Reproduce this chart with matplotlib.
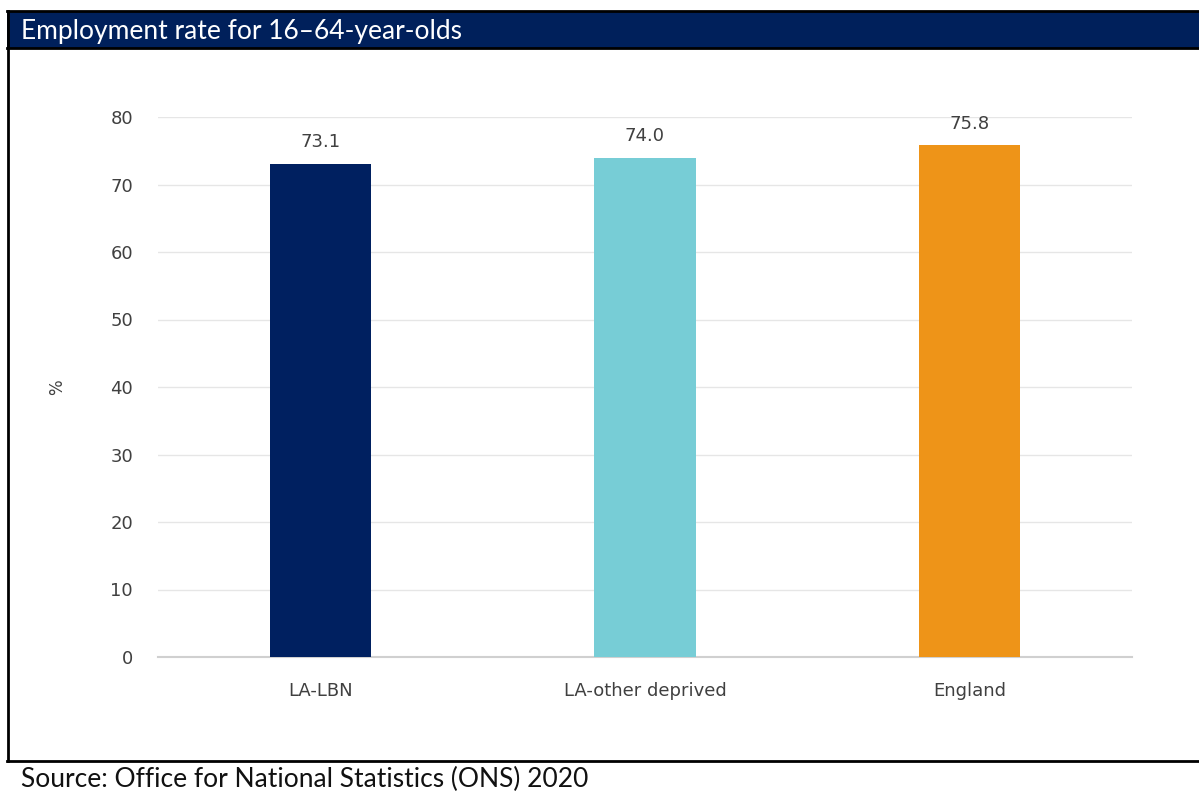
import matplotlib.pyplot as plt
from matplotlib.patches import Rectangle
from matplotlib.lines import Line2D

areas = ['LA-LBN', 'LA-other deprived', 'England']
rates = [73.1, 74.0, 75.8]
bar_colours = ['#002060', '#77CDD6', '#EE9418']
yticks = [0, 10, 20, 30, 40, 50, 60, 70, 80]

W, H = 1199, 791
fig = plt.figure(figsize=(W / 100, H / 100), dpi=100)
fig.patch.set_facecolor('white')

# header band and box outline (pixel coords converted to figure fractions)
def fx(px):
    return px / W

def fy(py):
    return 1 - py / H

fig.patches.append(Rectangle((fx(7), fy(48)), fx(1199) - fx(7), fy(11) - fy(48),
                             transform=fig.transFigure, facecolor='#00205B',
                             edgecolor='none', zorder=0))
for x0, y0, x1, y1 in [(7, 11, 1199, 11), (7, 48, 1199, 48), (7, 761, 1199, 761)]:
    fig.lines.append(Line2D([fx(x0), fx(x1)], [fy(y0), fy(y1)], transform=fig.transFigure,
                            color='black', lw=2))
fig.lines.append(Line2D([fx(8), fx(8)], [fy(11), fy(761)], transform=fig.transFigure,
                        color='black', lw=2))

fig.text(fx(21), fy(32), 'Employment rate for 16\u201364-year-olds', color='white',
         fontsize=19, family='Lato', va='center', ha='left')
fig.text(fx(21), fy(779), 'Source: Office for National Statistics (ONS) 2020', color='#111111',
         fontsize=19, family='Lato', va='center', ha='left')

ax = fig.add_axes([fx(158), fy(657), fx(1132) - fx(158), fy(117) - fy(657)])
x = range(len(areas))
bars = ax.bar(x, rates, width=0.313, color=bar_colours, zorder=3)
ax.bar_label(bars, labels=[f'{v:.1f}' for v in rates], padding=9, fontsize=13,
             color='#404040')

ax.set_xlim(-0.5, 2.5)
ax.set_ylim(0, 80)
ax.set_yticks(yticks)
ax.set_xticks(list(x))
ax.set_xticklabels(areas)
ax.tick_params(axis='both', length=0, labelsize=13, labelcolor='#404040')
ax.tick_params(axis='y', pad=18)
ax.tick_params(axis='x', pad=18)
ax.grid(axis='y', color='#E6E6E6', lw=1, zorder=0)
ax.set_axisbelow(True)
for s in ['top', 'right', 'left']:
    ax.spines[s].set_visible(False)
ax.spines['bottom'].set_color('#D0D0D0')
ax.spines['bottom'].set_linewidth(1.5)
ax.set_ylabel('%', fontsize=12, color='#404040', labelpad=32)

fig.savefig('out.png', dpi=100)
